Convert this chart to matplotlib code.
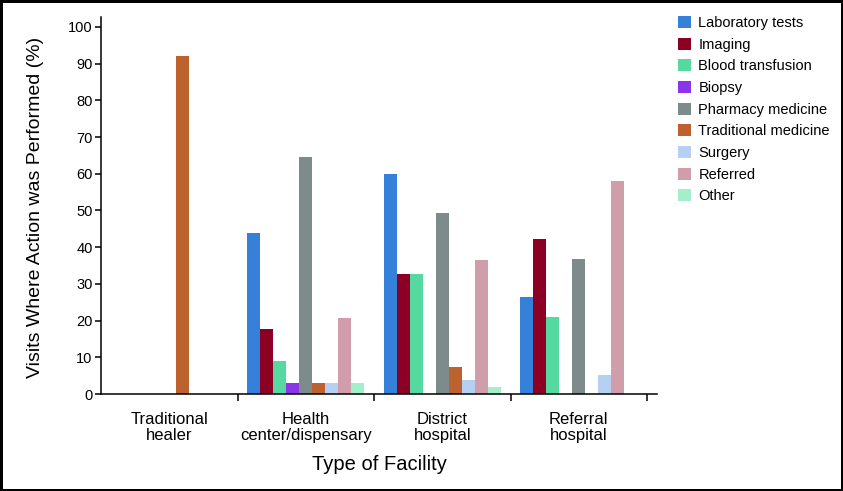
import numpy as np
import matplotlib
matplotlib.use("Agg")
import matplotlib.pyplot as plt
from matplotlib.ticker import FixedLocator

plt.rcParams['font.family'] = ['Liberation Sans', 'DejaVu Sans']

# Data
facilities = ['Traditional\nhealer', 'Health\ncenter/dispensary', 'District\nhospital', 'Referral\nhospital']
actions = ['Laboratory tests', 'Imaging', 'Blood transfusion', 'Biopsy', 'Pharmacy medicine',
           'Traditional medicine', 'Surgery', 'Referred', 'Other']
colors = ['#3580D8', '#8B0024', '#56D9A0', '#8A35E8', '#7D8B8A',
          '#BD622E', '#B5D0F2', '#D09EAA', '#A3EFCB']

lab_tests = [0, 44.0, 60.0, 26.4]
imaging = [0, 17.7, 32.8, 42.1]
blood_transfusion = [0, 9.0, 32.8, 21.1]
biopsy = [0, 3.0, 0, 0]
pharmacy_medicine = [0, 64.7, 49.2, 36.9]
traditional_medicine = [92.2, 3.0, 7.4, 0]
surgery = [0, 3.0, 3.8, 5.3]
referred = [0, 20.6, 36.4, 58.0]
other = [0, 3.0, 1.9, 0]

series = [lab_tests, imaging, blood_transfusion, biopsy, pharmacy_medicine,
          traditional_medicine, surgery, referred, other]

W, H = 843, 491
fig = plt.figure(figsize=(W / 100, H / 100), dpi=100)
fig.patch.set_edgecolor('black')
fig.patch.set_linewidth(2.5)

# axes placed in pixel terms
ax = fig.add_axes([101 / W, (H - 394) / H, 556 / W, 377 / H])

x = np.arange(len(facilities))
w = 13 / 136.5
for k, (vals, name, c) in enumerate(zip(series, actions, colors)):
    ax.bar(x + (k - 4) * w, vals, width=w, color=c, label=name, linewidth=0)

ax.set_xlim(-0.5, -0.5 + 556 / 136.5)
ax.set_ylim(0, 377 / 3.67)
ax.set_yticks(range(0, 101, 10))
ax.tick_params(axis='y', labelsize=10.5, length=4, width=1.1, direction='out', pad=2)

ax.set_xticks(x)
ax.set_xticklabels(facilities, fontsize=12, linespacing=1.1)
ax.tick_params(axis='x', which='major', length=0, pad=13)
ax.xaxis.set_minor_locator(FixedLocator([0.5, 1.5, 2.5, 3.5]))
ax.tick_params(axis='x', which='minor', length=5, width=1.1, direction='out')

for s in ['top', 'right']:
    ax.spines[s].set_visible(False)
for s in ['left', 'bottom']:
    ax.spines[s].set_linewidth(1.1)

ax.set_ylabel('Visits Where Action was Performed (%)', fontsize=14)
ax.yaxis.set_label_coords(-0.1025, 0.495)
ax.set_xlabel('Type of Facility', fontsize=14.5)
ax.xaxis.set_label_coords(0.5, -0.162)

fig.legend(loc='upper left', bbox_to_anchor=(678 / W, 1 - 16 / H), frameon=False,
           fontsize=10.5, handlelength=0.9, handleheight=0.9, handletextpad=0.5,
           labelspacing=0.52, borderpad=0, borderaxespad=0)

fig.savefig('out.png', dpi=100)
